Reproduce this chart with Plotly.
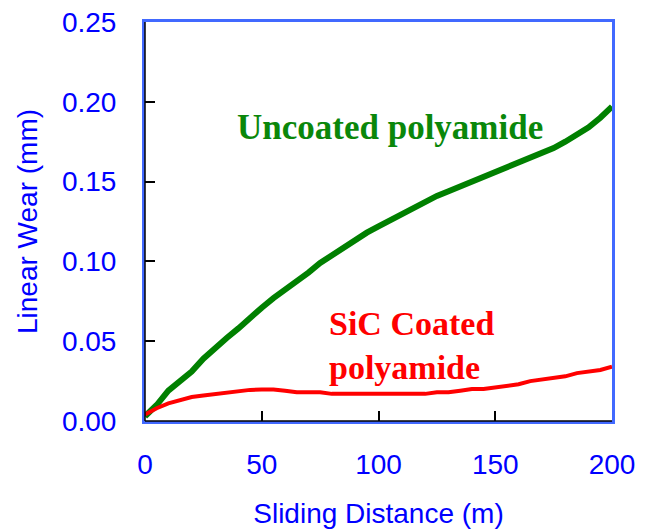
import plotly.graph_objects as go

distance = [0, 5, 10, 15, 20, 25, 30, 35, 40, 45, 50, 55, 60, 65, 70, 75, 80, 85, 90, 95, 100,
            105, 110, 115, 120, 125, 130, 135, 140, 145, 150, 155, 160, 165, 170, 175, 180,
            185, 190, 195, 200]
uncoated = [0.003, 0.010, 0.019, 0.025, 0.031, 0.039, 0.046, 0.052, 0.058, 0.065, 0.071,
            0.077, 0.082, 0.088, 0.093, 0.099, 0.104, 0.109, 0.114, 0.118, 0.122,
            0.126, 0.130, 0.134, 0.138, 0.141, 0.144, 0.147, 0.150, 0.153, 0.155,
            0.158, 0.161, 0.164, 0.167, 0.171, 0.175, 0.179, 0.184, 0.190, 0.197]
sic_coated = [0.004, 0.008, 0.011, 0.013, 0.015, 0.016, 0.017, 0.018, 0.019, 0.0195, 0.0197,
              0.0197, 0.019, 0.018, 0.018, 0.018, 0.017, 0.017, 0.017, 0.017, 0.017,
              0.017, 0.017, 0.017, 0.017, 0.018, 0.018, 0.019, 0.020, 0.020, 0.021,
              0.022, 0.023, 0.025, 0.026, 0.027, 0.028, 0.030, 0.031, 0.032, 0.034]

BLUE = "#0000FF"
FRAME = "#4169FF"

fig = go.Figure()
fig.add_trace(go.Scatter(x=distance, y=uncoated, mode="lines",
                         line=dict(color="#008000", width=6), name="Uncoated polyamide"))
fig.add_trace(go.Scatter(x=distance, y=sic_coated, mode="lines",
                         line=dict(color="#FF0000", width=4), name="SiC Coated polyamide"))

fig.add_annotation(x=105, y=0.184, xref="x", yref="y", text="<b>Uncoated polyamide</b>",
                   showarrow=False, font=dict(family="Liberation Serif", size=35, color="#0A870A"))
fig.add_annotation(x=78, y=0.047, xref="x", yref="y", text="<b>SiC Coated<br>polyamide</b>",
                   showarrow=False, xanchor="left", align="left",
                   font=dict(family="Liberation Serif", size=34, color="#FF0000"))

# black inner axis lines at left and bottom
fig.add_shape(type="line", xref="paper", yref="paper", x0=0, x1=0, y0=0, y1=1,
              line=dict(color="black", width=1.5), layer="above")
fig.add_shape(type="line", xref="paper", yref="paper", x0=0, x1=1, y0=0, y1=0,
              line=dict(color="black", width=1.5), layer="above")

fig.update_layout(
    width=649, height=530,
    margin=dict(l=137, r=45, t=14, b=117, autoexpand=False),
    paper_bgcolor="white", plot_bgcolor="white",
    showlegend=False,
    font=dict(family="Liberation Sans", color=BLUE, size=28),
)
fig.update_xaxes(range=[0, 200], dtick=50, tick0=0, showgrid=False, zeroline=False,
                 showline=True, linecolor=FRAME, linewidth=3, mirror=True, automargin=False,
                 ticks="inside", ticklen=10, tickcolor="black", tickwidth=1.5,
                 tickfont=dict(size=28, color=BLUE), ticklabelstandoff=16,
                 ticklabeloverflow="allow",
                 title=dict(text="Sliding Distance (m)", font=dict(size=28, color=BLUE), standoff=25))
fig.update_yaxes(range=[0, 0.25], dtick=0.05, tick0=0, tickformat=".2f", showgrid=False,
                 zeroline=False, showline=True, linecolor=FRAME, linewidth=3, mirror=True,
                 automargin=False, ticklabeloverflow="allow",
                 ticks="inside", ticklen=10, tickcolor="black", tickwidth=1.5,
                 tickfont=dict(size=28, color=BLUE), ticklabelstandoff=20,
                 title=dict(text="Linear Wear (mm)", font=dict(size=28, color=BLUE), standoff=17))

fig.write_html("out.html")
